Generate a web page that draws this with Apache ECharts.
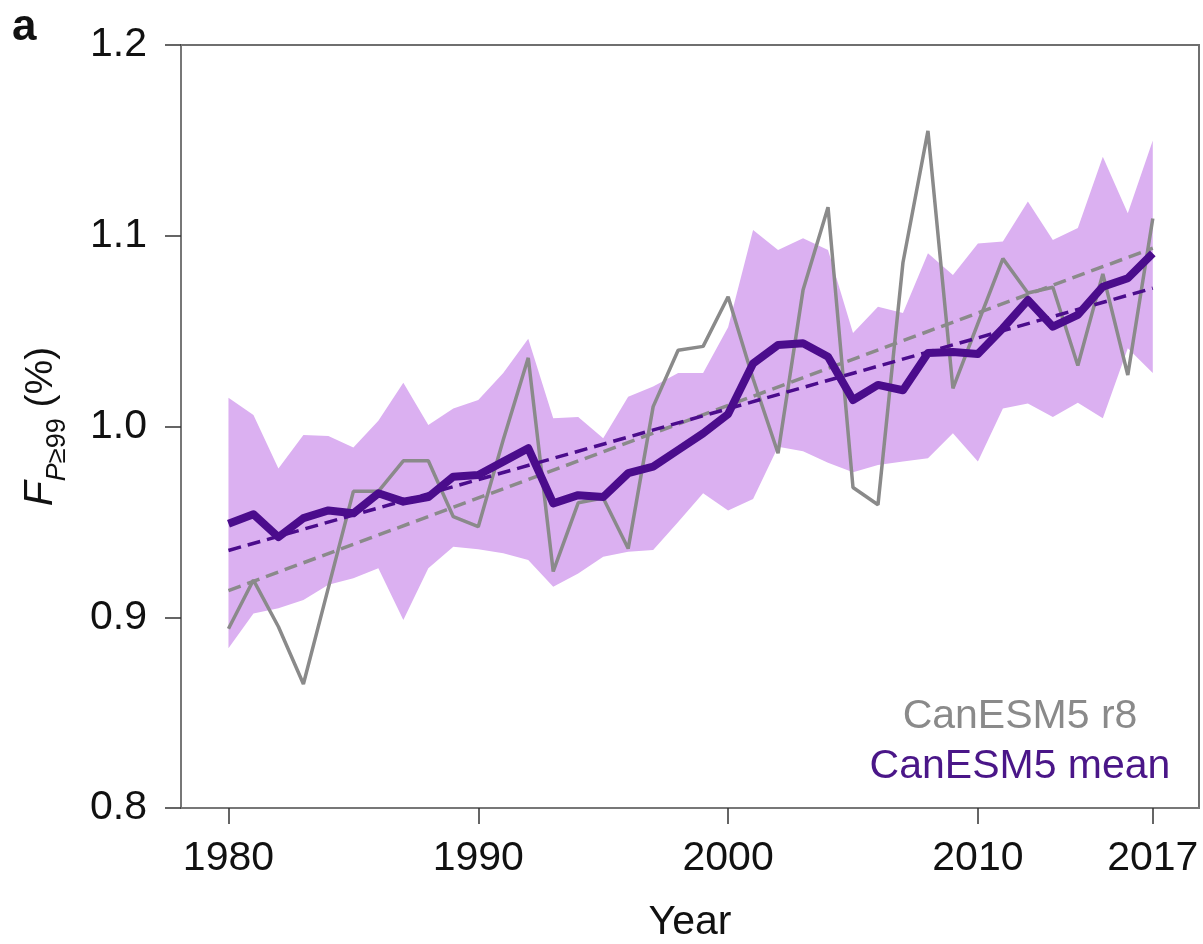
<!DOCTYPE html>
<html>
<head>
<meta charset="utf-8">
<title>CanESM5 extreme precipitation frequency</title>
<script src="https://cdn.jsdelivr.net/npm/echarts@6/dist/echarts.min.js"></script>
<style>
  html, body { margin: 0; padding: 0; background: #ffffff; }
  #chart { width: 1203px; height: 944px; }
</style>
</head>
<body>
<div id="chart"></div>
<script>
// Years covered by the simulation
const years = [
  1980, 1981, 1982, 1983, 1984, 1985, 1986, 1987, 1988, 1989,
  1990, 1991, 1992, 1993, 1994, 1995, 1996, 1997, 1998, 1999,
  2000, 2001, 2002, 2003, 2004, 2005, 2006, 2007, 2008, 2009,
  2010, 2011, 2012, 2013, 2014, 2015, 2016, 2017
];

// Single ensemble member r8 (%)
const r8Values = [
  0.894, 0.9195, 0.895, 0.865, 0.9155, 0.966, 0.966, 0.982, 0.982, 0.9527,
  0.9475, 0.993, 1.036, 0.924, 0.960, 0.9625, 0.936, 1.0104, 1.040, 1.042,
  1.068, 1.025, 0.986, 1.0715, 1.115, 0.968, 0.959, 1.086, 1.155, 1.020,
  1.054, 1.088, 1.070, 1.073, 1.032, 1.080, 1.027, 1.109
];

// Ensemble mean (%)
const meanValues = [
  0.949, 0.954, 0.942, 0.952, 0.956, 0.9545, 0.965, 0.9606, 0.963, 0.9737,
  0.9746, 0.9816, 0.9886, 0.9597, 0.964, 0.963, 0.9755, 0.979, 0.9877, 0.9964,
  1.0065, 1.033, 1.0427, 1.0436, 1.0366, 1.0139, 1.0218, 1.019, 1.0385, 1.039,
  1.038, 1.0515, 1.0663, 1.0523, 1.0585, 1.0733, 1.0777, 1.0908
];

// Ensemble spread: upper and lower bounds (%)
const spreadUpper = [
  1.0151, 1.006, 0.978, 0.9955, 0.995, 0.989, 1.003, 1.023, 1.0008, 1.0095,
  1.0139, 1.028, 1.046, 1.0043, 1.005, 0.9938, 1.0156, 1.021, 1.028, 1.028,
  1.052, 1.103, 1.0925, 1.0987, 1.0925, 1.049, 1.0628, 1.0595, 1.0908, 1.0794,
  1.096, 1.097, 1.118, 1.0978, 1.104, 1.1414, 1.1118, 1.150
];
const spreadLower = [
  0.8837, 0.902, 0.9047, 0.909, 0.917, 0.9204, 0.9257, 0.8986, 0.9257, 0.937,
  0.9356, 0.9335, 0.930, 0.916, 0.923, 0.9317, 0.9344, 0.9353, 0.950, 0.965,
  0.956, 0.962, 0.9894, 0.987, 0.981, 0.976, 0.9798, 0.9816, 0.9833, 0.9964,
  0.9816, 1.0095, 1.012, 1.005, 1.0125, 1.0043, 1.041, 1.028
];

// Linear trends (end points)
const trendYears = [1980, 2017];
const r8Trend = [0.914, 1.0935];
const meanTrend = [0.935, 1.0725];

// Axis ticks
const xTicks = [1980, 1990, 2000, 2010, 2017];
const yTicks = [0.8, 0.9, 1.0, 1.1, 1.2];

const legendLabels = ['CanESM5 r8', 'CanESM5 mean'];

const GRAY = '#8a8a8a';
const PURPLE = '#4b0c8c';
const BAND = '#dbb0f1';
const FONT = '"Liberation Sans", Arial, Helvetica, sans-serif';

const pairs = (xs, ys) => xs.map((x, i) => [x, ys[i]]);

// Spread band: one polygon through the upper bounds and back along the lower bounds
function renderSpread(params, api) {
  if (params.dataIndex !== 0) return null;
  const pts = [];
  for (let i = 0; i < years.length; i++) pts.push(api.coord([years[i], spreadUpper[i]]));
  for (let i = years.length - 1; i >= 0; i--) pts.push(api.coord([years[i], spreadLower[i]]));
  return {
    type: 'polygon',
    shape: { points: pts },
    style: { fill: BAND, stroke: null },
    silent: true
  };
}

const chart = echarts.init(document.getElementById('chart'), null, { renderer: 'canvas' });

chart.setOption({
  animation: false,
  backgroundColor: '#ffffff',
  grid: {
    left: 181, right: 4, top: 45, bottom: 136,
    show: true, borderColor: '#6f6f6f', borderWidth: 2,
    outerBoundsMode: 'none'
  },
  xAxis: {
    type: 'value',
    min: 1978.1,
    max: 2018.85,
    name: 'Year',
    nameLocation: 'middle',
    nameGap: 94,
    nameTextStyle: { fontFamily: FONT, fontSize: 41, color: '#111' },
    axisLine: { show: true, onZero: false, lineStyle: { color: '#777', width: 2 } },
    axisTick: { show: true, length: 16, customValues: xTicks, lineStyle: { color: '#333', width: 1.5 } },
    axisLabel: {
      customValues: xTicks, margin: 30,
      fontFamily: FONT, fontSize: 41, color: '#111',
      formatter: v => String(v)
    },
    splitLine: { show: false }
  },
  yAxis: {
    type: 'value',
    min: 0.8,
    max: 1.2,
    interval: 0.1,
    name: '{f|F}{sp|P}{ss|≥99}{n| (%)}',
    nameLocation: 'middle',
    nameRotate: 90,
    nameGap: 110,
    nameTextStyle: {
      rich: {
        f: { fontFamily: FONT, fontStyle: 'italic', fontSize: 41, lineHeight: 60, color: '#111', verticalAlign: 'middle' },
        sp: { fontFamily: FONT, fontStyle: 'italic', fontSize: 27, lineHeight: 27, color: '#111', verticalAlign: 'bottom' },
        ss: { fontFamily: FONT, fontSize: 27, lineHeight: 27, color: '#111', verticalAlign: 'bottom' },
        n: { fontFamily: FONT, fontSize: 39, lineHeight: 60, color: '#111', verticalAlign: 'middle' }
      }
    },
    axisLine: { show: true, lineStyle: { color: '#777', width: 2 } },
    axisTick: { show: true, length: 16, lineStyle: { color: '#333', width: 1.5 } },
    axisLabel: {
      margin: 34, fontFamily: FONT, fontSize: 41, color: '#111',
      showMinLabel: true, showMaxLabel: true,
      formatter: v => yTicks.find(t => Math.abs(t - v) < 1e-6).toFixed(1)
    },
    splitLine: { show: false }
  },
  graphic: [
    {
      type: 'text', left: 12, top: 6,
      style: { text: 'a', font: 'bold 44px ' + FONT, fill: '#111' }
    },
    {
      type: 'text', x: 1020, y: 717,
      style: { text: legendLabels[0], font: '41px ' + FONT, fill: GRAY, textAlign: 'center', textVerticalAlign: 'middle' }
    },
    {
      type: 'text', x: 1020, y: 767,
      style: { text: legendLabels[1], font: '41px ' + FONT, fill: '#4a1688', textAlign: 'center', textVerticalAlign: 'middle' }
    }
  ],
  series: [
    {
      name: 'spread',
      type: 'custom',
      renderItem: renderSpread,
      data: pairs(years, spreadUpper),
      encode: { x: 0, y: 1 },
      clip: true,
      silent: true,
      z: 1
    },
    {
      name: legendLabels[0],
      type: 'line',
      data: pairs(years, r8Values),
      symbol: 'none',
      lineStyle: { color: GRAY, width: 3.5 },
      z: 3
    },
    {
      name: 'r8 trend',
      type: 'line',
      data: pairs(trendYears, r8Trend),
      symbol: 'none',
      lineStyle: { color: GRAY, width: 3.5, type: [13, 7] },
      z: 4
    },
    {
      name: 'mean trend',
      type: 'line',
      data: pairs(trendYears, meanTrend),
      symbol: 'none',
      lineStyle: { color: PURPLE, width: 3.5, type: [13, 7] },
      z: 5
    },
    {
      name: legendLabels[1],
      type: 'line',
      data: pairs(years, meanValues),
      symbol: 'none',
      lineStyle: { color: PURPLE, width: 8, join: 'round' },
      z: 6
    }
  ]
});
</script>
</body>
</html>
